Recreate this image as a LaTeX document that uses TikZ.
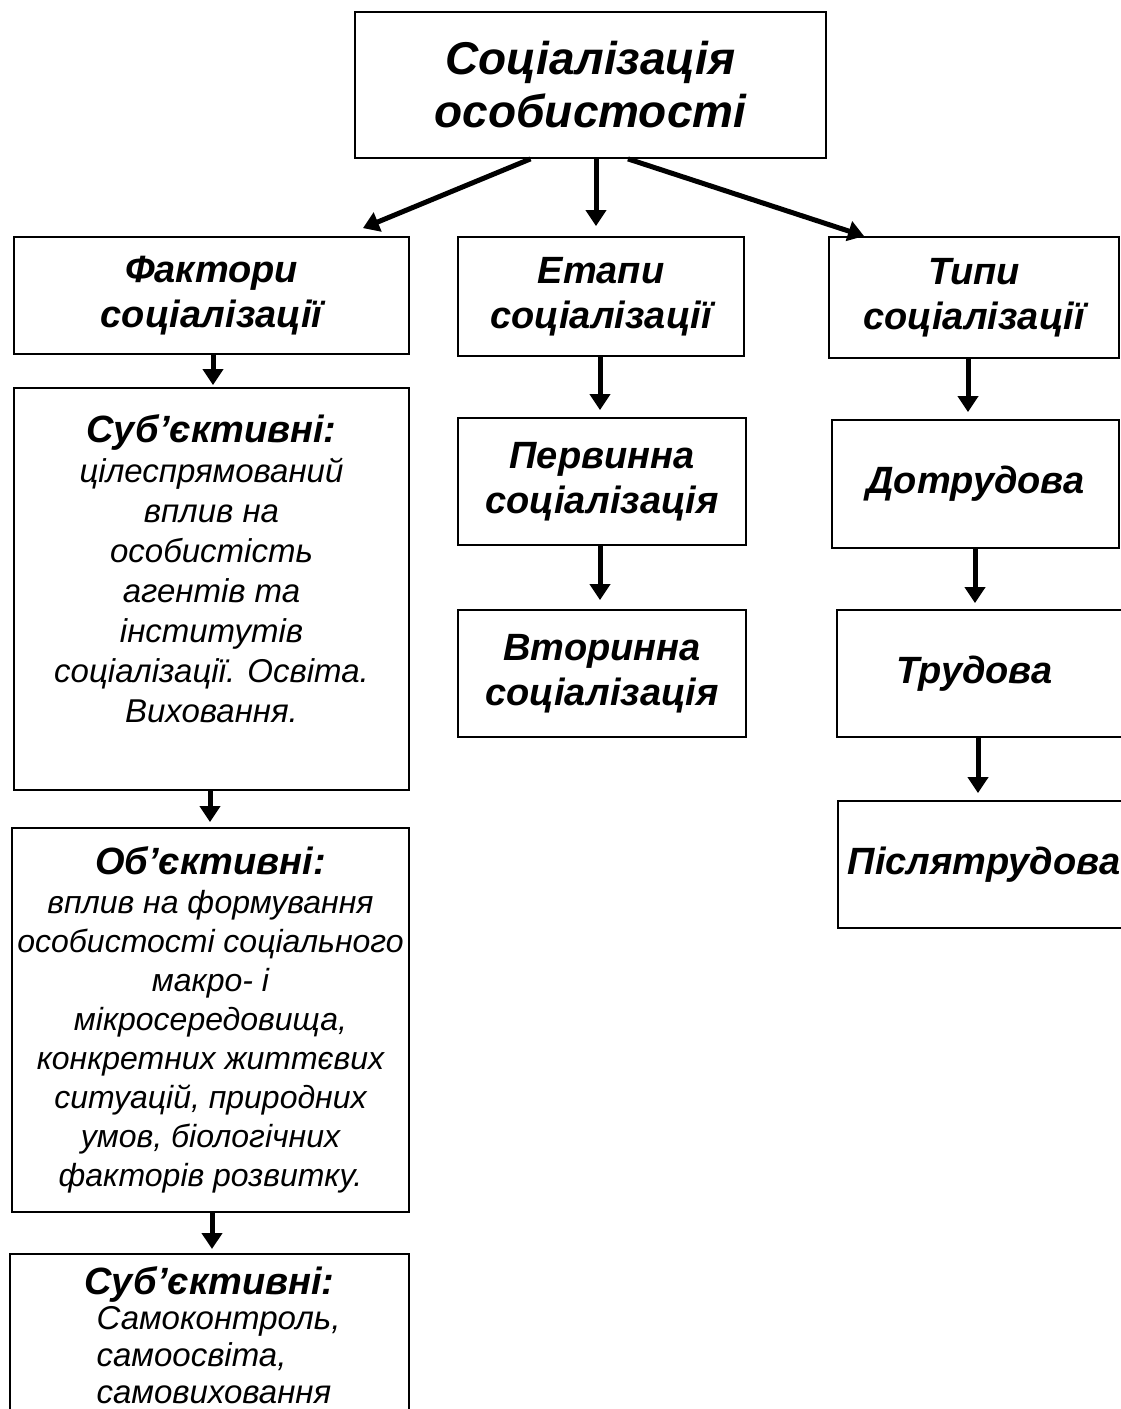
\documentclass[tikz,border=0pt]{standalone}
\usepackage{fontspec}
\setmainfont{Liberation Sans}
\usetikzlibrary{arrows.meta, positioning}
\tikzset{
  basebox/.style={rectangle, draw=black, line width=1.8pt, align=center, inner sep=0pt},
  headbox/.style={basebox, font=\fontsize{38}{45}\selectfont\bfseries\itshape},
  textbox/.style={basebox, font=\fontsize{33}{40}\selectfont\itshape},
  arrow/.style={-{Triangle[length=16pt,width=20pt]}, line width=5pt}
}
\newcommand{\headline}[1]{{\fontsize{38}{44}\selectfont\bfseries #1}}
\begin{document}
\begin{tikzpicture}[x=1pt,y=-1pt]
  \useasboundingbox (0,0) rectangle (1121,1409);
  % top
  \node[headbox,font=\fontsize{46}{53}\selectfont\bfseries\itshape,minimum width=471pt,minimum height=146pt] (soc) at (590.5,85) {Соціалізація\\особистості};
  % first row
  \node[headbox,minimum width=395pt,minimum height=117pt] (fact) at (211.5,295.5) {Фактори\\соціалізації};
  \node[headbox,minimum width=286pt,minimum height=119pt] (etap) at (601,296.5) {Етапи\\соціалізації};
  \node[headbox,minimum width=290pt,minimum height=121pt] (typ) at (974,297.5) {Типи\\соціалізації};
  % factors column
  \node[textbox,minimum width=395pt,minimum height=402pt] (subA) at (211.5,589) {\headline{Суб'єктивні:}\\цілеспрямований\\вплив на\\особистість\\агентів та\\інститутів\\соціалізації. Освіта.\\Виховання.\\ \mbox{}};
  \node[textbox,font=\fontsize{32}{39}\selectfont\itshape,minimum width=397pt,minimum height=384pt] (obj) at (210.5,1020) {\headline{Об'єктивні:}\\вплив на формування\\особистості соціального\\макро- і\\мікросередовища,\\конкретних життєвих\\ситуацій, природних\\умов, біологічних\\факторів розвитку.};
  \node[textbox,font=\fontsize{33}{37}\selectfont\itshape,minimum width=399pt,inner ysep=13pt,anchor=north] (subB) at (209.5,1253) {\headline{Суб'єктивні:}\\\hspace*{18pt}\begin{tabular}{@{}l@{}}Самоконтроль,\\самоосвіта,\\самовиховання\end{tabular}\\[30pt]\mbox{}};
  % stages column
  \node[headbox,minimum width=288pt,minimum height=127pt] (perv) at (602,481.5) {Первинна\\соціалізація};
  \node[headbox,minimum width=288pt,minimum height=127pt] (vtor) at (602,673.5) {Вторинна\\соціалізація};
  % types column
  \node[headbox,minimum width=287pt,minimum height=128pt] (dotr) at (975.5,484) {Дотрудова};
  \node[headbox,minimum width=293pt,minimum height=127pt] (trud) at (983.5,673.5) {\hspace*{-18pt}Трудова};
  \node[headbox,minimum width=292pt,minimum height=127pt] (pisl) at (984,864.5) {Післятрудова};
  % arrows
  \draw[arrow] ([xshift=-60pt]soc.south) -- ([xshift=-47pt,yshift=8pt]fact.north east);
  \draw[arrow] ([xshift=5.5pt]soc.south) -- ([xshift=-5pt,yshift=10pt]etap.north);
  \draw[arrow] ([xshift=37.5pt]soc.south) -- ([xshift=36pt]typ.north west);
  \draw[arrow] ([xshift=1.5pt]fact.south) -- ([xshift=1.5pt,yshift=2pt]subA.north);
  \draw[arrow] ([xshift=-1.5pt]subA.south) -- ([xshift=-0.5pt,yshift=5pt]obj.north);
  \draw[arrow] ([xshift=1.5pt]obj.south) -- ([xshift=2.5pt,yshift=4pt]subB.north);
  \draw[arrow] ([xshift=-1pt]etap.south) -- ([xshift=-2pt,yshift=7pt]perv.north);
  \draw[arrow] ([xshift=-2pt]perv.south) -- ([xshift=-2pt,yshift=9pt]vtor.north);
  \draw[arrow] ([xshift=-6pt]typ.south) -- ([xshift=-7.5pt,yshift=7pt]dotr.north);
  \draw[arrow] ([xshift=-0.5pt]dotr.south) -- ([xshift=-8.5pt,yshift=6pt]trud.north);
  \draw[arrow] ([xshift=-5.5pt]trud.south) -- ([xshift=-6pt,yshift=7pt]pisl.north);
\end{tikzpicture}
\end{document}
